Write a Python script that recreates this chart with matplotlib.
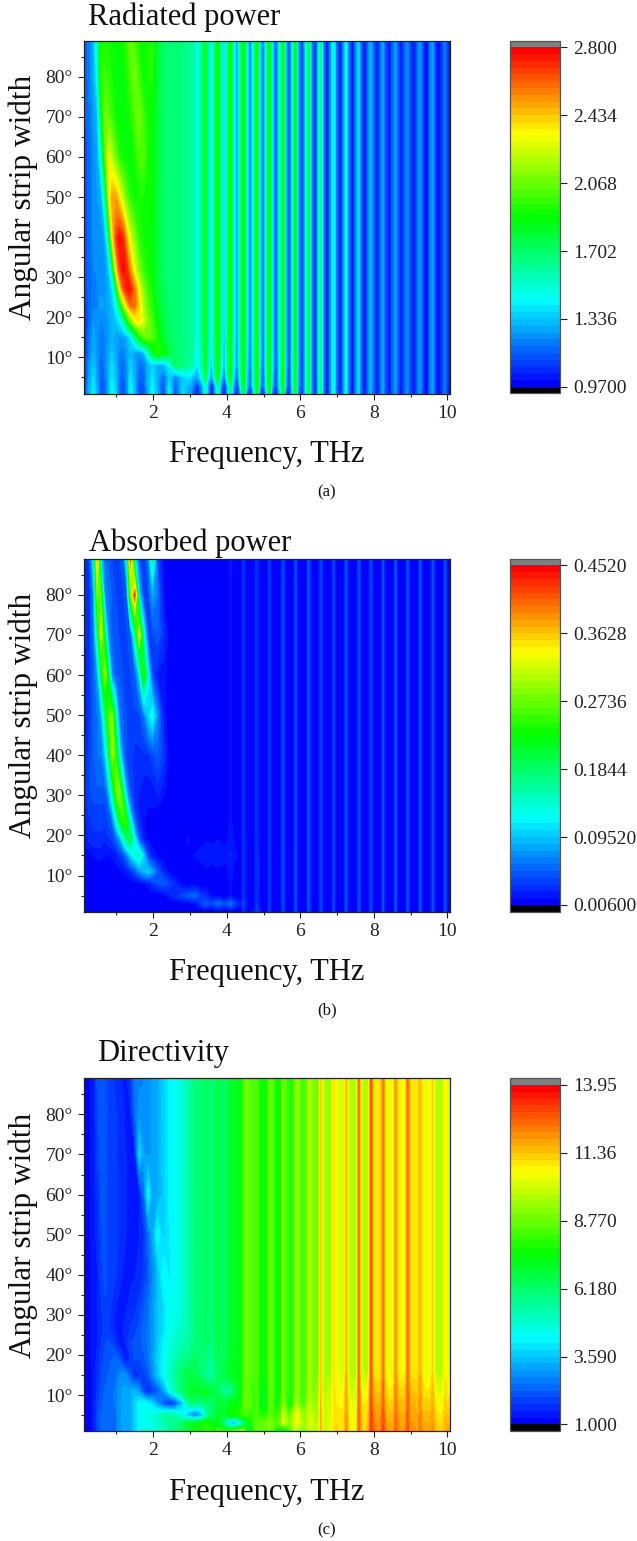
import numpy as np
import matplotlib
matplotlib.use("Agg")
import matplotlib.pyplot as plt
from matplotlib.colors import LinearSegmentedColormap

plt.rcParams['font.family'] = ['Liberation Serif', 'DejaVu Serif']

# Frequency columns (THz), shared by all panels

freq_low = [0.12, 0.25, 0.38, 0.48, 0.58, 0.68, 0.78, 0.88, 0.98, 1.08, 1.18, 1.28,
            1.38, 1.5, 1.62, 1.74, 1.86, 1.98, 2.12, 2.28, 2.44, 2.6, 2.8, 3.0]
freq_mid = [3.0, 3.1, 3.2,
            3.34, 3.42, 3.5, 3.6,
            3.68, 3.76, 3.84, 3.93,
            4.03, 4.10, 4.18, 4.28,
            4.39, 4.46, 4.54, 4.64,
            4.75, 4.82, 4.90, 4.99,
            5.09, 5.16, 5.24, 5.34,
            5.46, 5.53, 5.60, 5.70,
            5.80, 5.87, 5.94, 6.05,
            6.16, 6.23, 6.30, 6.40]
freq_high = [6.40,
             6.49, 6.56, 6.63, 6.73,
             6.84, 6.91, 6.98, 7.08,
             7.18, 7.25, 7.32, 7.42,
             7.52, 7.59, 7.66, 7.75,
             7.85, 7.92, 7.99, 8.09,
             8.18, 8.25, 8.32, 8.42,
             8.52, 8.59, 8.66, 8.75,
             8.85, 8.92, 8.99, 9.09,
             9.19, 9.26, 9.33, 9.43,
             9.53, 9.60, 9.67, 9.77,
             9.87, 9.94, 10.01, 10.07]

# Angle rows (degrees)

angle_low = [1, 3, 5, 8, 11, 15, 19, 23, 27, 32, 40, 50, 60, 70, 80, 89]
angle_mid = [1, 3, 5, 8, 15, 89]
angle_mid_b = [1, 3, 5, 8, 15, 24, 89]
angle_mid_c = [1, 3, 5, 8, 11, 15, 24, 89]
angle_high = [1, 89]
angle_high_c = [1, 8, 16, 89]

# Radiated power

rad_low = [
    [1.05, 1.28, 1.42, 1.28, 1.12, 1.16, 1.30, 1.45, 1.36, 1.20, 1.10, 1.20, 1.44, 1.32, 1.12, 1.12, 1.30, 1.45, 1.30, 1.10, 1.42, 1.12, 1.38, 1.28],
    [1.05, 1.28, 1.40, 1.26, 1.12, 1.16, 1.30, 1.42, 1.34, 1.20, 1.12, 1.22, 1.42, 1.30, 1.14, 1.14, 1.30, 1.42, 1.28, 1.12, 1.40, 1.14, 1.36, 1.30],
    [1.05, 1.26, 1.38, 1.25, 1.14, 1.18, 1.30, 1.40, 1.32, 1.20, 1.14, 1.24, 1.40, 1.28, 1.16, 1.16, 1.30, 1.40, 1.28, 1.16, 1.36, 1.20, 1.34, 1.40],
    [1.05, 1.24, 1.34, 1.24, 1.16, 1.20, 1.30, 1.38, 1.30, 1.20, 1.16, 1.24, 1.36, 1.28, 1.18, 1.20, 1.30, 1.36, 1.28, 1.30, 1.42, 1.72, 1.68, 1.60],
    [1.05, 1.20, 1.30, 1.24, 1.18, 1.20, 1.28, 1.34, 1.28, 1.22, 1.20, 1.26, 1.32, 1.26, 1.24, 1.30, 1.50, 1.78, 1.95, 1.88, 1.78, 1.70, 1.66, 1.62],
    [1.05, 1.18, 1.28, 1.24, 1.20, 1.22, 1.26, 1.30, 1.28, 1.26, 1.26, 1.30, 1.40, 1.60, 1.88, 2.04, 2.08, 2.02, 1.92, 1.80, 1.72, 1.68, 1.66, 1.62],
    [1.05, 1.15, 1.26, 1.24, 1.22, 1.24, 1.26, 1.30, 1.34, 1.40, 1.55, 1.80, 2.05, 2.30, 2.38, 2.25, 2.10, 2.00, 1.86, 1.76, 1.70, 1.68, 1.66, 1.62],
    [1.06, 1.16, 1.22, 1.22, 1.28, 1.26, 1.28, 1.32, 1.45, 1.70, 2.10, 2.40, 2.60, 2.60, 2.38, 2.18, 2.02, 1.94, 1.82, 1.74, 1.70, 1.68, 1.66, 1.62],
    [1.12, 1.16, 1.22, 1.22, 1.25, 1.25, 1.28, 1.38, 1.65, 2.30, 2.60, 2.75, 2.75, 2.55, 2.30, 2.12, 1.98, 1.90, 1.78, 1.72, 1.68, 1.68, 1.66, 1.62],
    [1.12, 1.16, 1.22, 1.24, 1.24, 1.25, 1.32, 1.60, 2.30, 2.65, 2.78, 2.72, 2.50, 2.28, 2.10, 1.97, 1.92, 1.88, 1.78, 1.70, 1.68, 1.68, 1.66, 1.62],
    [1.12, 1.16, 1.24, 1.24, 1.24, 1.28, 1.60, 2.30, 2.65, 2.78, 2.70, 2.45, 2.25, 2.10, 1.96, 1.90, 1.88, 1.87, 1.78, 1.70, 1.68, 1.68, 1.66, 1.62],
    [1.12, 1.16, 1.24, 1.26, 1.30, 1.55, 2.20, 2.50, 2.50, 2.35, 2.20, 2.05, 1.94, 1.90, 1.92, 1.92, 1.90, 1.88, 1.78, 1.70, 1.68, 1.68, 1.66, 1.62],
    [1.12, 1.16, 1.24, 1.28, 1.50, 1.98, 2.30, 2.20, 2.06, 1.95, 1.90, 1.88, 1.88, 1.92, 2.02, 2.02, 1.92, 1.88, 1.78, 1.70, 1.68, 1.68, 1.66, 1.62],
    [1.14, 1.18, 1.26, 1.32, 1.75, 2.08, 2.05, 1.98, 1.90, 1.88, 1.88, 1.88, 1.92, 2.02, 2.10, 1.98, 1.90, 1.88, 1.78, 1.70, 1.68, 1.68, 1.66, 1.62],
    [1.15, 1.20, 1.30, 1.45, 1.95, 1.98, 1.96, 1.92, 1.88, 1.88, 1.88, 1.92, 2.00, 2.10, 1.98, 1.90, 1.92, 1.93, 1.78, 1.70, 1.68, 1.68, 1.66, 1.62],
    [1.15, 1.20, 1.30, 1.55, 1.90, 1.92, 1.92, 1.90, 1.88, 1.88, 1.90, 1.96, 2.08, 2.00, 1.92, 1.88, 1.92, 1.95, 1.78, 1.70, 1.68, 1.68, 1.66, 1.62],
]
rad_mid_1 = [1.28, 1.12, 1.02,
             1.25, 1.55, 1.25, 1.00,
             1.25, 1.55, 1.20, 1.00,
             1.30, 1.65, 1.20, 1.00,
             1.35, 1.80, 1.20, 1.02,
             1.40, 1.85, 1.15, 1.02,
             1.40, 1.85, 1.15, 1.03,
             1.40, 1.85, 1.15, 1.03,
             1.45, 1.85, 1.20, 1.04,
             1.45, 1.78, 1.26, 1.03]
rad_mid_3 = [1.30, 1.20, 1.08,
             1.30, 1.55, 1.25, 1.02,
             1.30, 1.60, 1.25, 1.02,
             1.35, 1.70, 1.30, 1.03,
             1.50, 1.88, 1.40, 1.12,
             1.55, 1.92, 1.35, 1.08,
             1.55, 1.92, 1.30, 1.06,
             1.50, 1.90, 1.30, 1.05,
             1.50, 1.86, 1.30, 1.05,
             1.45, 1.78, 1.26, 1.03]
rad_mid_5 = [1.40, 1.30, 1.26,
             1.50, 1.75, 1.42, 1.22,
             1.60, 1.85, 1.42, 1.16,
             1.62, 1.88, 1.40, 1.13,
             1.62, 1.90, 1.38, 1.10,
             1.60, 1.92, 1.36, 1.08,
             1.58, 1.92, 1.34, 1.06,
             1.55, 1.90, 1.32, 1.05,
             1.50, 1.86, 1.30, 1.05,
             1.45, 1.78, 1.26, 1.03]
rad_mid_8 = [1.60, 1.55, 1.38,
             1.62, 1.82, 1.54, 1.30,
             1.68, 1.86, 1.54, 1.24,
             1.68, 1.88, 1.48, 1.20,
             1.66, 1.90, 1.44, 1.15,
             1.60, 1.92, 1.40, 1.11,
             1.58, 1.92, 1.36, 1.09,
             1.55, 1.90, 1.34, 1.06,
             1.50, 1.86, 1.30, 1.05,
             1.45, 1.78, 1.26, 1.03]
rad_mid_top = [1.62, 1.60, 1.42,
               1.68, 1.82, 1.60, 1.36,
               1.72, 1.86, 1.60, 1.28,
               1.70, 1.88, 1.52, 1.22,
               1.68, 1.90, 1.48, 1.16,
               1.62, 1.92, 1.42, 1.12,
               1.58, 1.92, 1.38, 1.10,
               1.55, 1.90, 1.34, 1.07,
               1.50, 1.86, 1.30, 1.05,
               1.45, 1.78, 1.26, 1.03]
rad_high_top = [1.03,
                1.40, 1.72, 1.25, 1.03,
                1.35, 1.58, 1.22, 1.02,
                1.30, 1.48, 1.20, 1.02,
                1.28, 1.42, 1.18, 1.02,
                1.22, 1.34, 1.16, 1.03,
                1.20, 1.30, 1.14, 1.03,
                1.20, 1.28, 1.14, 1.04,
                1.18, 1.25, 1.12, 1.02,
                1.20, 1.28, 1.12, 1.00,
                1.22, 1.30, 1.10, 1.00,
                1.15, 1.22, 1.08, 1.02]

# Absorbed power

abs_low = [
    [.007, .007, .007, .007, .007, .007, .007, .007, .007, .007, .007, .007, .007, .007, .007, .007, .007, .007, .007, .007, .007, .007, .007, .007],
    [.007, .007, .007, .007, .007, .007, .007, .007, .007, .007, .007, .007, .007, .007, .007, .007, .007, .007, .007, .007, .007, .007, .009, .012],
    [.007, .007, .007, .007, .007, .007, .007, .007, .007, .007, .007, .007, .007, .007, .007, .007, .007, .007, .008, .010, .020, .030, .040, .050],
    [.007, .007, .007, .007, .007, .007, .007, .007, .007, .007, .007, .008, .008, .009, .010, .012, .020, .032, .042, .050, .040, .025, .012, .008],
    [.007, .007, .007, .008, .008, .008, .008, .008, .010, .012, .016, .020, .030, .045, .070, .090, .100, .080, .050, .025, .012, .008, .007, .007],
    [.008, .012, .015, .018, .018, .015, .014, .016, .020, .030, .040, .065, .100, .130, .150, .100, .040, .020, .012, .008, .008, .008, .010, .012],
    [.015, .025, .030, .030, .030, .025, .030, .035, .050, .075, .120, .180, .200, .120, .050, .022, .012, .010, .008, .007, .007, .008, .012, .018],
    [.018, .030, .035, .035, .035, .035, .040, .050, .110, .180, .240, .240, .140, .060, .028, .015, .012, .010, .010, .008, .007, .007, .007, .008],
    [.020, .035, .040, .040, .040, .040, .050, .100, .180, .270, .260, .150, .070, .030, .020, .015, .015, .015, .015, .010, .008, .007, .007, .007],
    [.025, .040, .050, .050, .050, .050, .090, .170, .280, .280, .160, .070, .040, .030, .025, .020, .020, .020, .030, .020, .008, .007, .007, .007],
    [.020, .035, .050, .060, .060, .090, .160, .300, .250, .130, .060, .040, .035, .030, .030, .030, .030, .040, .050, .035, .008, .007, .007, .007],
    [.015, .030, .050, .060, .080, .160, .260, .280, .160, .060, .050, .040, .040, .040, .040, .060, .100, .130, .070, .020, .008, .007, .007, .007],
    [.018, .030, .050, .080, .180, .300, .200, .070, .050, .050, .040, .040, .040, .050, .100, .250, .120, .040, .020, .020, .008, .007, .007, .007],
    [.020, .030, .060, .160, .320, .200, .070, .050, .050, .040, .040, .040, .050, .140, .330, .140, .040, .040, .050, .030, .008, .007, .007, .007],
    [.020, .030, .070, .280, .260, .070, .060, .050, .040, .040, .040, .050, .260, .420, .100, .040, .040, .080, .060, .015, .008, .007, .007, .007],
    [.020, .030, .120, .370, .100, .060, .050, .040, .040, .040, .050, .120, .400, .120, .050, .030, .060, .160, .040, .012, .008, .007, .007, .007],
]
abs_mid_1 = [.007, .007, .007,
             .007, .007, .007, .007,
             .007, .007, .007, .007,
             .007, .012, .007, .007,
             .010, .030, .012, .014,
             .020, .040, .020, .012,
             .012, .036, .012, .007,
             .012, .038, .012, .007,
             .012, .040, .012, .007,
             .012, .042, .012, .007]
abs_mid_3 = [.012, .015, .020,
             .040, .050, .045, .040,
             .050, .055, .050, .040,
             .050, .060, .045, .030,
             .020, .040, .015, .007,
             .010, .032, .010, .007,
             .012, .036, .012, .007,
             .012, .038, .012, .007,
             .012, .040, .012, .007,
             .012, .042, .012, .007]
abs_mid_5 = [.050, .055, .050,
             .030, .030, .020, .012,
             .008, .010, .008, .007,
             .008, .018, .008, .007,
             .010, .030, .010, .007,
             .010, .032, .010, .007,
             .012, .036, .012, .007,
             .012, .038, .012, .007,
             .012, .040, .012, .007,
             .012, .042, .012, .007]
abs_mid_8 = [.008, .007, .007,
             .007, .008, .007, .007,
             .007, .008, .007, .007,
             .007, .018, .008, .008,
             .008, .030, .012, .012,
             .012, .032, .014, .012,
             .012, .036, .012, .008,
             .012, .038, .012, .007,
             .012, .040, .012, .007,
             .012, .042, .012, .007]
abs_mid_15 = [.012, .015, .016,
              .018, .020, .020, .018,
              .020, .020, .020, .018,
              .020, .025, .020, .015,
              .012, .030, .012, .008,
              .010, .032, .010, .007,
              .012, .036, .012, .007,
              .012, .038, .012, .007,
              .012, .040, .012, .007,
              .012, .042, .012, .007]
abs_mid_top = [.007, .007, .007,
               .007, .007, .007, .007,
               .007, .008, .007, .007,
               .008, .018, .008, .007,
               .010, .030, .010, .007,
               .010, .032, .010, .007,
               .012, .036, .012, .007,
               .012, .038, .012, .007,
               .012, .040, .012, .007,
               .012, .042, .012, .007]
abs_high_top = [.007,
                .014, .044, .014, .007,
                .014, .044, .014, .007,
                .014, .046, .014, .007,
                .014, .046, .014, .007,
                .014, .046, .014, .007,
                .014, .048, .014, .007,
                .014, .048, .014, .007,
                .014, .048, .014, .007,
                .014, .048, .014, .007,
                .014, .048, .014, .007,
                .014, .048, .014, .007]

# Directivity

dir_low = [
    [1.10, 1.20, 1.30, 2.00, 2.30, 2.40, 2.50, 2.50, 2.50, 3.00, 3.10, 3.20, 3.20, 3.80, 4.30, 4.40, 4.50, 4.60, 4.90, 5.20, 5.60, 5.80, 6.20, 6.80],
    [1.15, 1.20, 1.30, 2.00, 2.30, 2.40, 2.50, 2.50, 2.50, 3.00, 3.10, 3.20, 3.20, 3.80, 4.30, 4.40, 4.50, 4.60, 4.90, 5.20, 5.60, 5.80, 6.40, 7.00],
    [1.15, 1.20, 1.30, 2.00, 2.30, 2.40, 2.50, 2.50, 2.50, 3.00, 3.10, 3.20, 3.20, 3.80, 4.30, 4.40, 4.50, 4.70, 5.00, 5.40, 5.60, 5.20, 4.50, 3.00],
    [1.15, 1.20, 1.30, 1.90, 2.20, 2.40, 2.50, 2.50, 2.60, 3.00, 3.10, 3.20, 3.20, 3.80, 4.30, 4.40, 4.20, 3.80, 3.00, 2.20, 1.60, 2.00, 3.60, 6.00],
    [1.15, 1.20, 1.30, 1.80, 2.10, 2.30, 2.40, 2.50, 2.60, 3.00, 3.10, 3.20, 3.30, 3.40, 3.00, 2.00, 1.50, 1.90, 2.20, 3.00, 4.30, 5.30, 6.20, 6.90],
    [1.15, 1.20, 1.30, 1.70, 2.00, 2.20, 2.30, 2.40, 2.50, 2.80, 3.00, 2.80, 2.20, 1.50, 1.80, 1.90, 2.20, 2.80, 3.60, 4.30, 5.00, 5.60, 6.30, 6.70],
    [1.15, 1.20, 1.35, 1.60, 1.90, 2.10, 2.20, 2.30, 2.40, 2.20, 1.70, 1.30, 1.80, 2.10, 2.00, 2.20, 2.50, 3.00, 3.70, 4.30, 4.80, 5.20, 5.80, 5.60],
    [1.15, 1.20, 1.35, 1.50, 1.70, 2.00, 2.10, 2.00, 1.70, 1.40, 1.35, 1.70, 2.00, 2.10, 2.20, 2.40, 2.60, 3.00, 3.60, 4.20, 4.60, 5.00, 5.20, 5.70],
    [1.15, 1.20, 1.35, 1.50, 1.70, 1.90, 1.80, 1.60, 1.45, 1.30, 1.50, 1.70, 1.80, 1.90, 2.10, 2.40, 2.60, 3.00, 3.50, 3.90, 4.40, 4.70, 5.00, 5.40],
    [1.15, 1.20, 1.35, 1.50, 1.70, 2.00, 2.00, 1.70, 1.50, 1.45, 1.50, 1.50, 1.60, 1.70, 1.90, 2.20, 2.50, 3.00, 3.50, 3.90, 4.50, 4.40, 4.80, 5.40],
    [1.15, 1.20, 1.40, 1.50, 1.90, 2.10, 2.00, 2.00, 1.80, 1.60, 1.50, 1.45, 1.45, 1.50, 1.60, 1.80, 2.20, 2.80, 3.40, 4.50, 4.00, 4.40, 4.80, 5.40],
    [1.15, 1.20, 1.40, 1.60, 2.00, 2.10, 2.00, 2.00, 1.90, 1.70, 1.60, 1.50, 1.45, 1.45, 1.50, 1.70, 2.40, 3.20, 4.40, 3.70, 4.10, 4.40, 4.80, 5.40],
    [1.15, 1.20, 1.40, 1.70, 2.10, 2.10, 2.00, 2.00, 1.90, 1.70, 1.60, 1.50, 1.45, 1.45, 1.50, 2.40, 4.30, 3.20, 3.20, 3.70, 4.20, 4.40, 4.80, 5.40],
    [1.15, 1.20, 1.40, 1.90, 2.10, 2.10, 2.00, 1.90, 1.80, 1.70, 1.60, 1.50, 1.45, 1.50, 3.80, 3.10, 3.00, 3.10, 3.30, 3.70, 4.20, 4.40, 4.80, 5.40],
    [1.15, 1.20, 1.40, 2.00, 2.20, 2.10, 2.00, 1.90, 1.80, 1.70, 1.55, 1.45, 1.50, 2.40, 3.00, 2.90, 3.00, 3.10, 3.30, 3.70, 4.20, 4.40, 4.80, 5.40],
    [1.15, 1.20, 1.40, 2.10, 2.20, 2.10, 2.00, 1.90, 1.70, 1.60, 1.50, 1.45, 1.80, 2.60, 2.70, 2.80, 3.00, 3.10, 3.30, 3.70, 4.20, 4.40, 4.80, 5.40],
]
dir_mid_1 = [6.8, 7.4, 7.8,
             7.6, 8.0, 8.0, 7.8,
             7.8, 8.4, 8.4, 8.0,
             8.2, 8.6, 8.8, 9.0,
             9.4, 9.6, 7.5, 6.8,
             8.4, 8.6, 8.6, 8.6,
             8.6, 8.8, 8.4, 7.5,
             6.8, 6.4, 6.8, 8.0,
             9.0, 9.6, 9.6, 9.0,
             9.2, 9.8, 9.8, 9.4]
dir_mid_3 = [7.0, 7.2, 7.2,
             7.6, 7.8, 7.6, 7.2,
             7.0, 7.0, 6.4, 5.4,
             4.6, 3.4, 2.8, 3.6,
             4.6, 5.6, 6.6, 7.2,
             8.2, 8.4, 8.6, 8.8,
             8.8, 9.2, 8.8, 8.4,
             9.0, 10.2, 9.8, 9.0,
             9.8, 10.4, 10.4, 9.6,
             9.5, 10.2, 10.2, 9.8]
dir_mid_5 = [3.0, 2.6, 2.6,
             3.6, 4.6, 5.6, 6.2,
             6.6, 7.0, 7.0, 6.8,
             7.2, 7.6, 7.6, 7.6,
             8.0, 8.4, 8.2, 8.0,
             8.2, 8.4, 8.0, 7.8,
             8.0, 8.6, 8.4, 8.0,
             8.6, 10.0, 9.5, 8.4,
             9.4, 10.6, 10.4, 9.4,
             9.4, 10.0, 10.0, 9.6]
dir_mid_8 = [6.0, 6.2, 5.6,
             6.0, 6.4, 6.0, 6.2,
             6.4, 6.8, 6.8, 6.8,
             7.0, 7.4, 7.4, 7.4,
             7.6, 8.6, 8.8, 8.6,
             8.0, 8.4, 7.4, 6.8,
             7.0, 8.6, 8.4, 7.4,
             7.8, 9.2, 8.4, 7.4,
             8.0, 9.4, 9.2, 8.2,
             8.8, 9.8, 9.6, 9.2]
dir_mid_11 = [6.9, 7.0, 7.0,
              7.0, 7.2, 7.0, 6.8,
              6.6, 6.4, 6.0, 5.6,
              5.4, 5.6, 6.0, 6.8,
              7.3, 8.4, 8.6, 8.4,
              8.0, 8.4, 7.5, 7.2,
              7.4, 8.7, 8.5, 7.6,
              7.7, 8.9, 8.5, 7.8,
              7.9, 9.2, 9.2, 8.2,
              8.4, 9.6, 9.3, 8.8]
dir_mid_15 = [6.7, 6.5, 6.4,
              6.0, 5.8, 5.4, 5.4,
              5.8, 6.4, 6.4, 6.6,
              6.8, 7.2, 7.2, 7.2,
              7.3, 8.4, 8.8, 8.6,
              8.2, 8.4, 7.6, 7.5,
              7.6, 8.8, 8.6, 7.7,
              7.7, 8.9, 8.5, 7.8,
              7.9, 9.2, 9.2, 8.2,
              8.4, 9.6, 9.3, 8.8]
dir_mid_top = [5.4, 5.8, 6.0,
               6.0, 6.3, 6.0, 6.0,
               6.2, 6.6, 6.3, 6.2,
               6.5, 7.0, 7.0, 7.0,
               7.3, 8.4, 8.8, 8.7,
               8.2, 8.4, 7.6, 7.5,
               7.6, 8.8, 8.6, 7.7,
               7.7, 8.9, 8.5, 7.8,
               7.9, 9.2, 9.2, 8.2,
               8.4, 9.6, 9.3, 8.8]
dir_high_1 = [9.5,
              10.0, 11.6, 10.0, 10.0,
              10.5, 11.0, 11.2, 11.0,
              11.0, 12.0, 11.0, 10.4,
              10.6, 12.6, 11.5, 11.0,
              11.5, 13.0, 12.6, 12.0,
              12.2, 13.0, 12.2, 11.8,
              11.8, 12.6, 12.2, 11.8,
              12.0, 12.8, 12.0, 12.0,
              11.8, 12.4, 11.8, 11.8,
              11.8, 12.0, 11.5, 11.2,
              11.2, 11.6, 11.8, 11.6]
dir_high_8 = [9.2,
              9.6, 11.4, 9.9, 10.0,
              10.2, 11.0, 10.8, 10.8,
              10.8, 11.8, 10.5, 10.2,
              10.4, 12.5, 11.0, 10.8,
              11.0, 12.9, 11.8, 11.6,
              11.6, 12.6, 11.4, 11.2,
              11.2, 12.3, 11.6, 11.4,
              11.5, 12.6, 11.6, 11.6,
              11.4, 12.0, 11.2, 11.2,
              11.2, 11.6, 10.8, 10.6,
              10.6, 11.2, 11.0, 11.0]
dir_high_top = [8.8,
                9.0, 11.2, 9.6, 9.4,
                9.6, 10.9, 10.4, 10.2,
                10.0, 11.6, 9.8, 9.6,
                9.7, 12.4, 10.0, 9.7,
                9.8, 12.8, 11.0, 10.8,
                10.9, 12.3, 10.6, 10.4,
                10.4, 12.0, 10.8, 10.6,
                10.8, 12.4, 11.0, 10.9,
                11.0, 11.6, 10.6, 10.4,
                10.4, 11.2, 9.8, 9.6,
                9.8, 10.8, 10.2, 10.3]

# Scale of each panel

rad_ticks = [0.97, 1.336, 1.702, 2.068, 2.434, 2.8]
rad_tick_labels = ["0.9700", "1.336", "1.702", "2.068", "2.434", "2.800"]
abs_ticks = [0.006, 0.0952, 0.1844, 0.2736, 0.3628, 0.452]
abs_tick_labels = ["0.00600", "0.09520", "0.1844", "0.2736", "0.3628", "0.4520"]
dir_ticks = [1.0, 3.59, 6.18, 8.77, 11.36, 13.95]
dir_tick_labels = ["1.000", "3.590", "6.180", "8.770", "11.36", "13.95"]

W = 637
H = 1541

cmap = LinearSegmentedColormap.from_list(
    "origin", ["#0000ff", "#00ffff", "#00ff00", "#ffff00", "#ff0000"], N=50)
cmap.set_under("black")
cmap.set_over("#808080")

fig = plt.figure(figsize=(W / 100, H / 100), dpi=100)


def add_px_axes(left, top, right, bottom):
    return fig.add_axes([left / W, 1 - bottom / H, (right - left) / W, (bottom - top) / H])


def draw_panel(top, title, title_x, title_y, tag, ticks, tick_labels, blocks):
    bottom = top + 352.8
    ax = add_px_axes(84, top, 450, bottom)
    levels = np.linspace(ticks[0], ticks[-1], 51)

    for freq, angle, rows in blocks:
        cf = ax.contourf(freq, angle, np.array(rows), levels=levels, cmap=cmap, extend="both")

    ax.set_xlim(0.12, 10.07)
    ax.set_ylim(1, 89)
    ax.set_xticks([2, 4, 6, 8, 10])
    ax.set_xticks([1, 3, 5, 7, 9], minor=True)
    ax.set_yticks(range(10, 90, 10))
    ax.set_yticks(range(5, 90, 10), minor=True)
    ax.set_yticklabels([str(a) + "\u00b0" for a in range(10, 90, 10)])
    ax.tick_params(which="major", length=4.2, width=0.8, labelsize=14, pad=4, color="#222222", labelcolor="#222222")
    ax.tick_params(which="minor", length=2.4, width=0.8, color="#222222")
    for s in ax.spines.values():
        s.set_linewidth(0.9)
        s.set_color("#222222")

    fig.text(title_x / W, 1 - title_y / H, title, fontsize=22, ha="left", va="center", color="#111111")
    fig.text(267 / W, 1 - (top + 414) / H, "Frequency, THz", fontsize=22, ha="center", va="center", color="#111111")
    fig.text(23 / W, 1 - (top + 157) / H, "Angular strip width", fontsize=22.5, rotation=90, ha="center", va="center", color="#111111")
    fig.text(327 / W, 1 - (top + 452) / H, tag, fontsize=12, ha="center", va="center", color="#111111")

    cax = add_px_axes(510, top, 560, bottom)
    cb = fig.colorbar(cf, cax=cax, extendrect=True, extendfrac=0.0195)
    cb.set_ticks(ticks)
    cb.set_ticklabels(tick_labels)
    cb.ax.minorticks_off()
    cb.ax.tick_params(length=4.7, width=0.8, labelsize=14, pad=4.5, color="#222222", labelcolor="#222222")
    cb.outline.set_linewidth(0.9)
    cb.outline.set_edgecolor("#555555")


rad_mid = [rad_mid_1, rad_mid_3, rad_mid_5, rad_mid_8, rad_mid_top, rad_mid_top]
abs_mid = [abs_mid_1, abs_mid_3, abs_mid_5, abs_mid_8, abs_mid_15, abs_mid_top, abs_mid_top]
dir_mid = [dir_mid_1, dir_mid_3, dir_mid_5, dir_mid_8, dir_mid_11, dir_mid_15, dir_mid_top, dir_mid_top]

draw_panel(40.7, "Radiated power", 88, 17, "(a)", rad_ticks, rad_tick_labels,
           [(freq_low, angle_low, rad_low),
            (freq_mid, angle_mid, rad_mid),
            (freq_high, angle_high, [rad_high_top, rad_high_top])])
draw_panel(558.8, "Absorbed power", 89, 543, "(b)", abs_ticks, abs_tick_labels,
           [(freq_low, angle_low, abs_low),
            (freq_mid, angle_mid_b, abs_mid),
            (freq_high, angle_high, [abs_high_top, abs_high_top])])
draw_panel(1078.3, "Directivity", 97, 1054, "(c)", dir_ticks, dir_tick_labels,
           [(freq_low, angle_low, dir_low),
            (freq_mid, angle_mid_c, dir_mid),
            (freq_high, angle_high_c, [dir_high_1, dir_high_8, dir_high_top, dir_high_top])])

fig.savefig("out.png", dpi=100)
